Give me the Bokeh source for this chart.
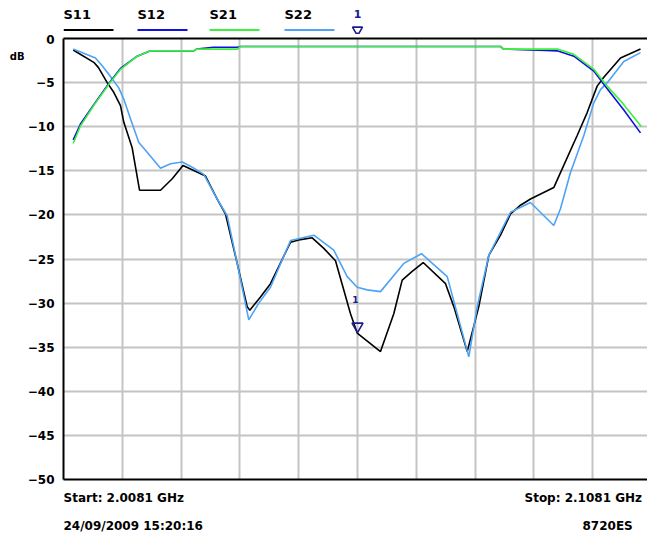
import numpy as np
from bokeh.plotting import figure
from bokeh.layouts import column
from bokeh.models import Range1d, FixedTicker, LinearAxis
from bokeh.core.properties import value
from bokeh.embed import file_html
from bokeh.resources import INLINE

# ---------------- data (frequency in MHz, level in dB) ----------------
START_MHZ = 2008.1
STOP_MHZ = 2108.1
marker_freq = 2058.1

y_ticks = [0, -5, -10, -15, -20, -25, -30, -35, -40, -45, -50]
x_grid = [2008.1, 2018.1, 2028.1, 2038.1, 2048.1, 2058.1, 2068.1, 2078.1, 2088.1, 2098.1, 2108.1]

s11_freq = [2009.75, 2013.25, 2014.05, 2015.53, 2016.65, 2017.79, 2018.36, 2019.78, 2021.03, 2024.60,
            2026.59, 2028.42, 2032.25, 2034.24, 2035.65, 2037.64, 2039.34, 2039.78, 2041.60, 2043.30,
            2046.71, 2048.41, 2050.40, 2052.37, 2054.36, 2056.91, 2058.05, 2062.01, 2064.27, 2065.70,
            2067.40, 2069.27, 2073.07, 2074.48, 2076.76, 2078.73, 2080.43, 2082.42, 2084.12, 2085.82,
            2087.52, 2091.48, 2092.62, 2095.46, 2097.16, 2098.86, 2099.99, 2102.83, 2106.23]
s11_db = [-1.3, -2.7, -3.3, -5.0, -6.1, -7.6, -9.5, -12.4, -17.2, -17.2,
          -15.9, -14.4, -15.6, -18.2, -19.9, -25.5, -30.4, -30.8, -29.3, -27.8,
          -23.1, -22.8, -22.6, -23.8, -25.2, -31.2, -33.4, -35.5, -31.2, -27.4,
          -26.4, -25.4, -27.8, -30.4, -35.5, -30.4, -24.6, -22.3, -19.9, -18.9,
          -18.2, -16.9, -15.2, -11.0, -8.4, -5.4, -4.4, -2.2, -1.2]

s22_freq = [2009.75, 2013.54, 2014.68, 2016.09, 2017.50, 2018.36, 2019.49, 2020.91, 2022.33, 2024.60,
            2026.30, 2028.29, 2029.99, 2031.96, 2034.24, 2035.94, 2037.64, 2039.61, 2041.31, 2043.30,
            2046.71, 2050.67, 2054.07, 2056.35, 2058.05, 2059.75, 2062.01, 2065.97, 2068.98, 2073.36,
            2077.03, 2078.46, 2080.43, 2084.12, 2087.52, 2091.48, 2092.62, 2094.32, 2096.59, 2098.29,
            2099.43, 2100.84, 2103.39, 2106.23]
s22_db = [-1.2, -2.2, -3.1, -4.3, -5.6, -6.9, -9.1, -11.8, -12.9, -14.7,
          -14.2, -14.0, -14.6, -15.4, -18.2, -20.1, -25.5, -31.9, -30.0, -28.2,
          -22.9, -22.3, -24.0, -27.0, -28.2, -28.5, -28.7, -25.5, -24.4, -27.0,
          -36.1, -30.4, -24.6, -19.7, -18.6, -21.2, -19.3, -15.2, -11.0, -7.3,
          -5.8, -4.8, -2.6, -1.6]

s21_freq = [2009.75, 2010.99, 2013.25, 2015.80, 2017.79, 2020.63, 2022.90, 2030.26, 2030.72, 2037.69,
            2038.20, 2082.42, 2082.93, 2092.06, 2094.89, 2098.29, 2100.57, 2103.39, 2106.40]
s21_db = [-11.9, -9.9, -7.6, -5.2, -3.5, -2.0, -1.4, -1.4, -1.2, -1.2,
          -0.9, -0.9, -1.2, -1.2, -1.8, -3.5, -5.4, -7.5, -10.0]

s12_freq = [2009.75, 2010.99, 2013.25, 2015.80, 2017.79, 2020.63, 2022.90, 2030.26, 2030.72, 2033.61,
            2037.69, 2038.20, 2082.42, 2082.93, 2090.07, 2092.06, 2094.89, 2098.29, 2100.57, 2103.39,
            2106.23]
s12_db = [-11.5, -9.7, -7.5, -5.1, -3.4, -2.0, -1.4, -1.4, -1.2, -1.0,
          -1.0, -0.9, -0.9, -1.2, -1.35, -1.4, -2.0, -3.7, -5.7, -8.1,
          -10.7]

series_names = ["S11", "S12", "S21", "S22"]
series_colors = ["#000000", "#1010e0", "#3cf03c", "#4da3f5"]
legend_px = [63, 137, 209, 284]          # left edge of each legend entry (px)

info_texts = ["Start: 2.0081 GHz", "Stop: 2.1081 GHz", "24/09/2009 15:20:16", "8720ES"]
info_px = [(63, 10), (524, 10), (63, 38), (582, 38)]

# ---------------- layout ----------------
W = 647
LEFT = 63
FULL_W = 588            # width of the full 10-division frame in px (extends past window)
TOP_H = 34              # legend strip
MAIN_TOP, FRAME_H, MAIN_BOT = 4, 441, 8
MAIN_H = MAIN_TOP + FRAME_H + MAIN_BOT
BOT_H = 536 - TOP_H - MAIN_H
x_end = START_MHZ + (STOP_MHZ - START_MHZ) * (W - LEFT) / FULL_W
FONT = "DejaVu Sans"
MK = "#1c1c8c"


def px_x(px):
    return START_MHZ + (px - LEFT) * (STOP_MHZ - START_MHZ) / FULL_W


xr = Range1d(START_MHZ, x_end)

# ---------- main plot ----------
p = figure(width=W, height=MAIN_H, output_backend="svg", toolbar_location=None,
           x_range=xr, y_range=Range1d(-50, 0),
           min_border_left=LEFT, min_border_right=0, min_border_top=MAIN_TOP,
           min_border_bottom=MAIN_BOT)
p.outline_line_color = None
p.background_fill_color = "white"
p.border_fill_color = "white"

p.yaxis.ticker = FixedTicker(ticks=y_ticks)
p.yaxis.major_tick_line_color = None
p.yaxis.minor_tick_line_color = None
p.yaxis.major_tick_out = 0
p.yaxis.major_tick_in = 0
p.yaxis.major_label_standoff = 9
p.yaxis.major_label_text_font = FONT
p.yaxis.major_label_text_font_style = "bold"
p.yaxis.major_label_text_font_size = "12px"
p.yaxis.major_label_text_color = "black"
p.yaxis.axis_line_color = "black"
p.yaxis.axis_line_width = 2

# unit label as an outer left axis with a single labelled tick
unit_axis = LinearAxis(ticker=FixedTicker(ticks=[-2]), major_label_overrides={-2: "dB"},
                       major_tick_line_color=None, minor_tick_line_color=None,
                       major_tick_out=0, major_tick_in=0, axis_line_color=None,
                       major_label_standoff=0, major_label_text_font=FONT,
                       major_label_text_font_style="bold", major_label_text_font_size="10px",
                       major_label_text_color="black")
p.add_layout(unit_axis, "left")

p.xaxis.ticker = FixedTicker(ticks=[])
p.xaxis.major_tick_line_color = None
p.xaxis.minor_tick_line_color = None
p.xaxis.major_tick_out = 0
p.xaxis.major_tick_in = 0
p.xaxis.axis_line_color = "black"
p.xaxis.axis_line_width = 2

top_axis = LinearAxis(ticker=FixedTicker(ticks=[]),
                      major_tick_line_color=None, minor_tick_line_color=None,
                      major_tick_out=0, major_tick_in=0,
                      axis_line_color="black", axis_line_width=2)
p.add_layout(top_axis, "above")

p.xgrid.ticker = FixedTicker(ticks=x_grid)
p.xgrid.grid_line_color = "#c4c4c4"
p.xgrid.grid_line_width = 2
p.ygrid.grid_line_color = "#c4c4c4"
p.ygrid.grid_line_width = 2

p.line(s11_freq, s11_db, line_color=series_colors[0], line_width=1.6)
p.line(s22_freq, s22_db, line_color=series_colors[3], line_width=1.6)
p.line(s12_freq, s12_db, line_color=series_colors[1], line_width=1.6)
p.line(s21_freq, s21_db, line_color=series_colors[2], line_width=1.6)

s11_at_marker = float(np.interp(marker_freq, s11_freq, s11_db))
p.scatter([marker_freq], [s11_at_marker + 0.8], marker="inverted_triangle", size=11,
          fill_alpha=0, line_color=MK, line_width=1.6)
p.text([marker_freq], [s11_at_marker], text=["1"], x_offset=-2, y_offset=-34, text_color=MK,
       text_font=value(FONT), text_font_style="bold", text_font_size="9px",
       text_align="center", text_baseline="middle")

# ---------- legend strip (shares the frequency axis) ----------
t = figure(width=W, height=TOP_H, output_backend="svg", toolbar_location=None,
           x_range=xr, y_range=Range1d(TOP_H, 0),
           min_border_left=LEFT, min_border_right=0, min_border_top=0, min_border_bottom=0,
           x_axis_location=None, y_axis_location=None)
t.outline_line_color = None
t.grid.visible = False
t.text([px_x(v) for v in legend_px], [14] * 4, text=series_names, text_color="black",
       text_font=value(FONT), text_font_style="bold", text_font_size="13px",
       text_align="left", text_baseline="middle")
t.segment(x0=[px_x(v) for v in legend_px], y0=[29.5] * 4,
          x1=[px_x(v + 50) for v in legend_px], y1=[29.5] * 4,
          line_color=series_colors, line_width=2)
t.text([marker_freq], [13], text=["1"], text_color=MK, text_font=value(FONT),
       text_font_style="bold", text_font_size="11px", text_align="center",
       text_baseline="middle")
t.scatter([marker_freq], [29.5], marker="inverted_triangle", size=10, fill_alpha=0,
          line_color=MK, line_width=1.6)
t.segment(x0=[marker_freq], y0=[32], x1=[marker_freq], y1=[TOP_H], line_color=MK, line_width=2)

# ---------- info strip (same horizontal frame as the plot) ----------
b = figure(width=W, height=BOT_H, output_backend="svg", toolbar_location=None,
           x_range=xr, y_range=Range1d(BOT_H, 0),
           min_border_left=LEFT, min_border_right=0, min_border_top=0, min_border_bottom=0,
           x_axis_location=None, y_axis_location=None)
b.outline_line_color = None
b.grid.visible = False
b.text([px_x(v[0]) for v in info_px], [v[1] for v in info_px], text=info_texts,
       text_color="black", text_font=value(FONT), text_font_style="bold",
       text_font_size="12px", text_align="left", text_baseline="middle")

layout = column(t, p, b, spacing=0)
open("out.html", "w").write(file_html(layout, INLINE))
